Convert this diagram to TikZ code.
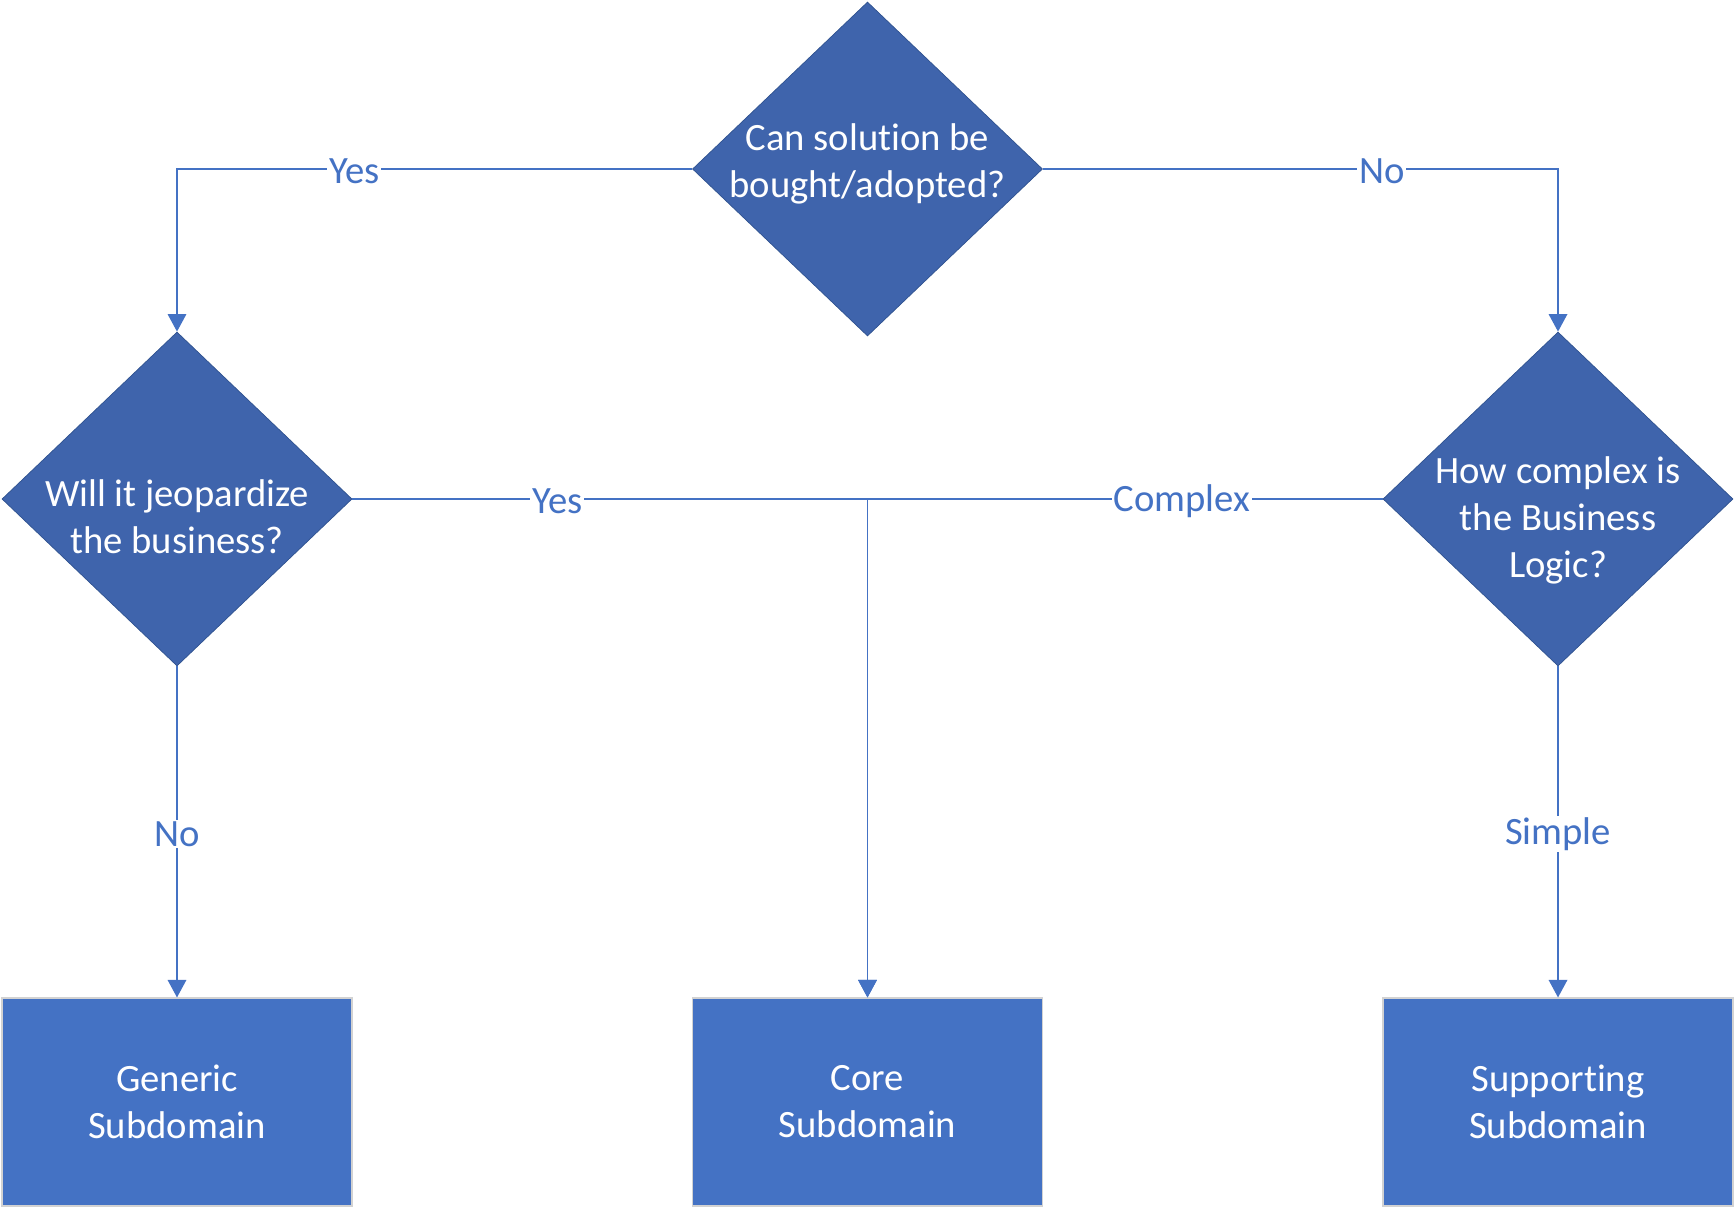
\documentclass[tikz,border=0pt]{standalone}
\usepackage{fontspec}
\setmainfont{Carlito}[Ligatures=NoCommon]
\usetikzlibrary{shapes.geometric}
\usetikzlibrary{arrows.meta}
\definecolor{boxblue}{RGB}{68,114,196}
\definecolor{askblue}{RGB}{63,100,172}
\definecolor{askline}{RGB}{47,82,143}
\tikzset{
    ask/.style = {diamond, draw=askline, line width=0.4pt, fill=askblue, inner sep=0pt, minimum width=7cm, minimum height=6.68cm},
    asktext/.style = {align=center, text=white, font=\fontsize{22}{26.8}\selectfont},
    result/.style = {rectangle, draw=gray!35, line width=0.6pt, fill=boxblue, minimum width=7cm, minimum height=4.16cm, align=center, text=white, font=\fontsize{22}{26.8}\selectfont},
    edge/.style = {-{Triangle[length=10pt,width=10.5pt]}, line width=1.1pt, boxblue},
    answer/.style = {fill=white, inner sep=1pt, yshift=-0.04cm, text=boxblue, font=\fontsize{22}{26.8}\selectfont}
}

\begin{document}
\begin{tikzpicture}
\useasboundingbox (0,0) rectangle (34.7,-24.16);
%
\node[ask] at (17.35,-3.38) (buy) {};
\node[asktext] at ([yshift=0.1cm]buy) {Can solution be\\bought/adopted?};
\node[ask] at (3.54,-9.98) (jeop) {};
\node[asktext] at ([yshift=-0.36cm]jeop) {Will it jeopardize\\the business?};
\node[ask] at (31.16,-9.98) (logic) {};
\node[asktext] at ([yshift=-0.43cm]logic) {How complex is\\the Business\\Logic?};
\node[result] at (3.54,-22.04) (generic) {Generic\\Subdomain};
\node[result] at (17.35,-22.04) (core) {Core\\Subdomain};
\node[result] at (31.16,-22.04) (supporting) {Supporting\\Subdomain};
%
\draw[edge] (buy) -| node[answer,pos=0.328] {Yes} (jeop);
\draw[edge] (buy) -| node[answer,pos=0.329] {No} (logic);
\draw[edge] (jeop) -| node[answer,pos=0.199] {Yes} (core);
\draw[edge] (logic) -| node[answer,pos=0.195] {Complex} (core);
\draw[edge] (jeop) -- node[answer] {No} (generic);
\draw[edge] (logic) -- node[answer] {Simple} (supporting);
\end{tikzpicture}
\end{document}
